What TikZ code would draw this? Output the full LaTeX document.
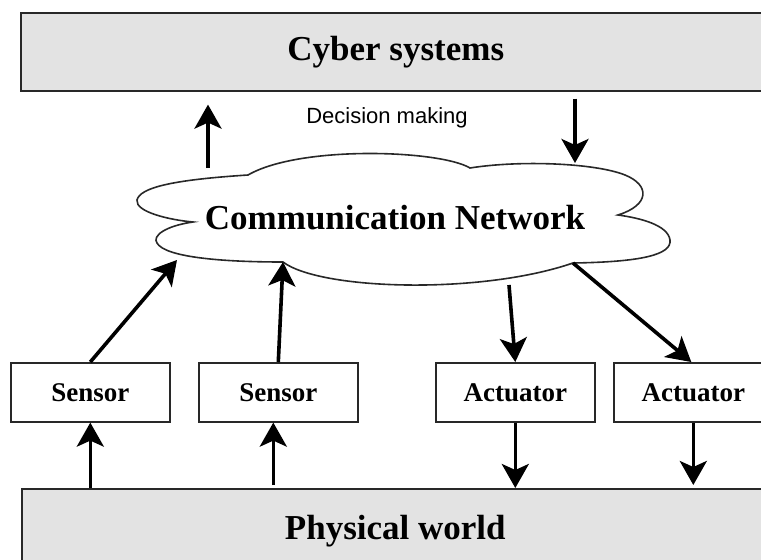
\documentclass[tikz,border=0pt]{standalone}
\usepackage{fontspec}
\setmainfont{Liberation Serif}
\newfontfamily\decfont{Liberation Sans}
\usetikzlibrary{arrows.meta,calc}
\definecolor{boxgray}{RGB}{227,227,227}
\definecolor{edgegray}{RGB}{40,40,40}
\begin{document}
\begin{tikzpicture}[x=1pt,y=-1pt,
  bigbox/.style={draw=edgegray, line width=1.6pt, fill=boxgray, anchor=north west, inner sep=0pt, font=\fontsize{35}{40}\selectfont\bfseries},
  devbox/.style={draw=edgegray, line width=1.6pt, fill=white, minimum width=159pt, minimum height=59pt, anchor=north west, inner sep=0pt, font=\fontsize{27}{30}\selectfont\bfseries},
  arr/.style={line width=3.6pt, -{Stealth[length=24pt,width=27pt,inset=6pt]}},
  cloudline/.style={draw=edgegray, line width=1.6pt, fill=white},
]
\useasboundingbox (0,0) rectangle (761,560);
\clip (0,0) rectangle (761,560);
\fill[white] (0,0) rectangle (761,560);

% big boxes
\node[bigbox, minimum width=750pt, minimum height=78pt] (cyber) at (20,12) {Cyber systems};
\node[bigbox, minimum width=747pt, minimum height=84pt] (phys) at (21,488) {Physical world};

% device boxes
\node[devbox] (s1) at (10,362) {Sensor};
\node[devbox] (s2) at (198,362) {Sensor};
\node[devbox] (a1) at (435,362) {Actuator};
\node[devbox] (a2) at (613,362) {Actuator};

% cloud
\path[cloudline] (248,175)
  .. controls (170,180) and (140,188) .. (137,200)
  .. controls (135,212) and (170,220) .. (193,222)
  .. controls (165,226) and (152,236) .. (157,243)
  .. controls (165,257) and (220,262) .. (283,262)
  .. controls (320,290) and (480,295) .. (573,263)
  .. controls (640,262) and (672,255) .. (670,240)
  .. controls (668,225) and (640,218) .. (618,215)
  .. controls (650,205) and (650,185) .. (625,175)
  .. controls (595,163) and (520,160) .. (470,168)
  .. controls (440,150) and (300,145) .. cycle;
\node[font=\fontsize{35}{40}\selectfont\bfseries, inner sep=0pt] (cloud) at (395,218) {Communication Network};

% points on the cloud outline
\coordinate (clup) at (208,168);
\coordinate (cldown) at (575,163);
\coordinate (cls1) at (177,260);
\coordinate (cls2) at (283,262);
\coordinate (cla1) at (509,285);
\coordinate (cla2) at (573,263);

\node[font=\fontsize{22}{26}\selectfont\decfont, inner sep=0pt] (dec) at (387,118) {Decision making};

% arrows cloud <-> cyber
\draw[arr] (clup) -- ($(clup |- cyber.south)+(0,13)$);
\draw[arr] ($(cldown |- cyber.south)+(0,7)$) -- (cldown);

% sensors -> cloud
\draw[arr] (s1.north) -- (cls1);
\draw[arr] (s2.north) -- (cls2);
% cloud -> actuators
\draw[arr] (cla1) -- (a1.north);
\draw[arr] (cla2) -- ($(a2.north)+(-2,0)$);

% physical <-> devices
\draw[arr] (s1.south |- phys.north) -- (s1.south);
\draw[arr] ($(s2.south |- phys.north)+(-5,-3)$) -- ($(s2.south)+(-5,0)$);
\draw[arr] (a1.south) -- (a1.south |- phys.north);
\draw[arr] (a2.south) -- ($(a2.south |- phys.north)+(0,-3)$);
\end{tikzpicture}
\end{document}
